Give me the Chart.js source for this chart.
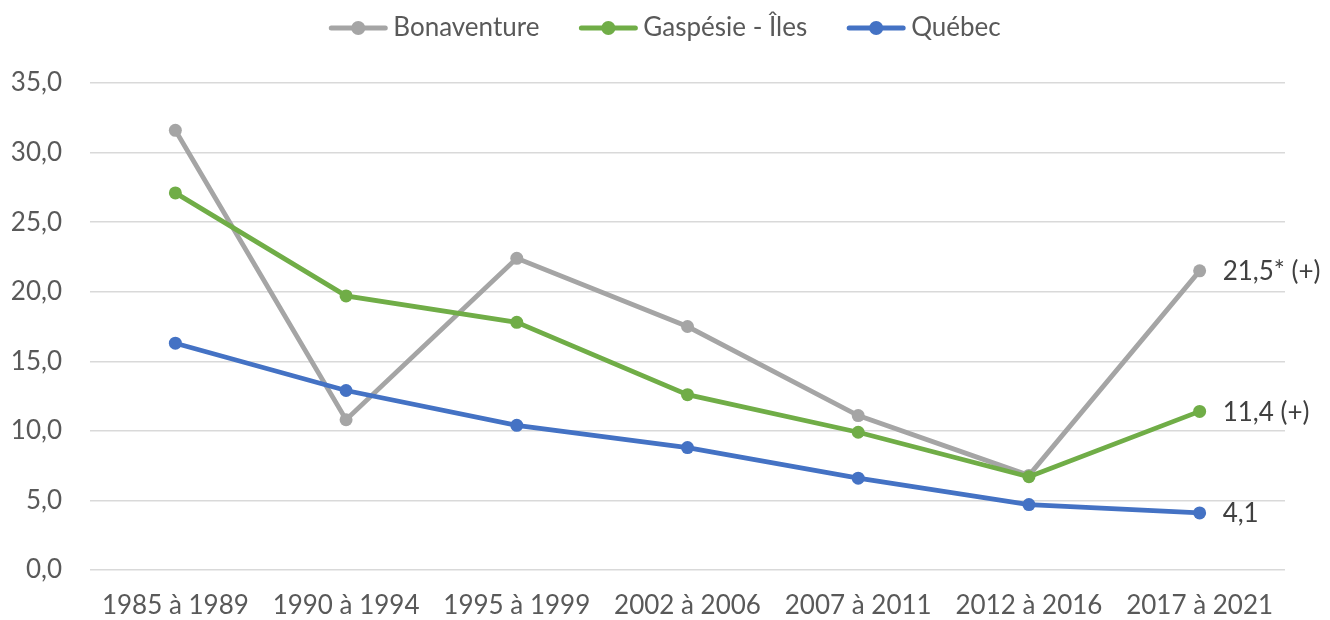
<!DOCTYPE html>
<html lang="fr">
<head>
<meta charset="utf-8">
<title>Taux par période</title>
<script src="https://cdn.jsdelivr.net/npm/chart.js@4"></script>
<style>
  html, body { margin: 0; padding: 0; background: #fff; }
  #wrap { width: 1330px; height: 620px; }
</style>
</head>
<body>
<div id="wrap"><canvas id="chart" width="1330" height="620"></canvas></div>
<script>
const periods = ['1985 à 1989', '1990 à 1994', '1995 à 1999', '2002 à 2006', '2007 à 2011', '2012 à 2016', '2017 à 2021'];
const bonaventure = [31.6, 10.8, 22.4, 17.5, 11.1, 6.8, 21.5];
const gaspesie = [27.1, 19.7, 17.8, 12.6, 9.9, 6.7, 11.4];
const quebec = [16.3, 12.9, 10.4, 8.8, 6.6, 4.7, 4.1];
const endLabels = ['21,5* (+)', '11,4 (+)', '4,1'];

const FONT = 'Lato, "Open Sans", sans-serif';
const GREY = '#A5A5A5';
const GREEN = '#70AD47';
const BLUE = '#4472C4';

const fmt = (v) => v.toFixed(1).replace('.', ',');

// legend drawn across the top: line + dot marker, then the series name
const topLegend = {
  id: 'topLegend',
  afterDraw(chart) {
    const ctx = chart.ctx;
    const items = chart.data.datasets.map(ds => ({ text: ds.label, color: ds.borderColor }));
    const markerW = 58, gap = 6, itemGap = 40, y = 28;
    ctx.save();
    ctx.font = '26px ' + FONT;
    const widths = items.map(it => markerW + gap + ctx.measureText(it.text).width);
    const total = widths.reduce((a, b) => a + b, 0) + itemGap * (items.length - 1);
    let x = (chart.width - total) / 2;
    items.forEach((it, i) => {
      ctx.strokeStyle = it.color;
      ctx.lineWidth = 5;
      ctx.lineCap = 'round';
      ctx.beginPath();
      ctx.moveTo(x + 2, y);
      ctx.lineTo(x + markerW - 2, y);
      ctx.stroke();
      ctx.fillStyle = it.color;
      ctx.beginPath();
      ctx.arc(x + markerW / 2, y, 7, 0, Math.PI * 2);
      ctx.fill();
      ctx.fillStyle = '#595959';
      ctx.textBaseline = 'middle';
      ctx.textAlign = 'left';
      ctx.fillText(it.text, x + markerW + gap, y);
      x += widths[i] + itemGap;
    });
    ctx.restore();
  }
};

// value labels to the right of the last point of each line
const lastValueLabels = {
  id: 'lastValueLabels',
  afterDatasetsDraw(chart) {
    const ctx = chart.ctx;
    ctx.save();
    ctx.font = '26px ' + FONT;
    ctx.fillStyle = '#404040';
    ctx.textBaseline = 'middle';
    ctx.textAlign = 'left';
    chart.data.datasets.forEach((ds, i) => {
      const meta = chart.getDatasetMeta(i);
      const pt = meta.data[meta.data.length - 1];
      ctx.fillText(endLabels[i], pt.x + 23, pt.y + 1);
    });
    ctx.restore();
  }
};

const line = (label, data, color, order) => ({
  label,
  data,
  order,
  borderColor: color,
  backgroundColor: color,
  borderWidth: 4.8,
  pointRadius: 6.5,
  pointHoverRadius: 6.5,
  pointBorderWidth: 0,
  pointBackgroundColor: color,
  tension: 0,
  fill: false
});

new Chart(document.getElementById('chart'), {
  type: 'line',
  data: {
    labels: periods,
    datasets: [
      line('Bonaventure', bonaventure, GREY, 3),
      line('Gaspésie - Îles', gaspesie, GREEN, 2),
      line('Québec', quebec, BLUE, 1)
    ]
  },
  options: {
    responsive: false,
    animation: false,
    layout: { padding: { top: 83, right: 45, left: 0, bottom: 0 } },
    plugins: {
      legend: { display: false },
      tooltip: { enabled: false }
    },
    scales: {
      x: {
        offset: true,
        grid: { display: false, drawTicks: false },
        border: { display: false },
        ticks: { color: '#595959', font: { family: FONT, size: 26 }, padding: 20, maxRotation: 0, autoSkip: false },
        afterFit: (scale) => { scale.height = 50; }
      },
      y: {
        min: 0,
        max: 35,
        grid: { color: '#D9D9D9', lineWidth: 1.5, drawTicks: false },
        border: { display: false },
        ticks: {
          stepSize: 5,
          color: '#595959',
          font: { family: FONT, size: 26 },
          padding: 28,
          callback: (v) => fmt(v)
        },
        afterFit: (scale) => { scale.width = 90; }
      }
    }
  },
  plugins: [topLegend, lastValueLabels]
});
</script>
</body>
</html>
